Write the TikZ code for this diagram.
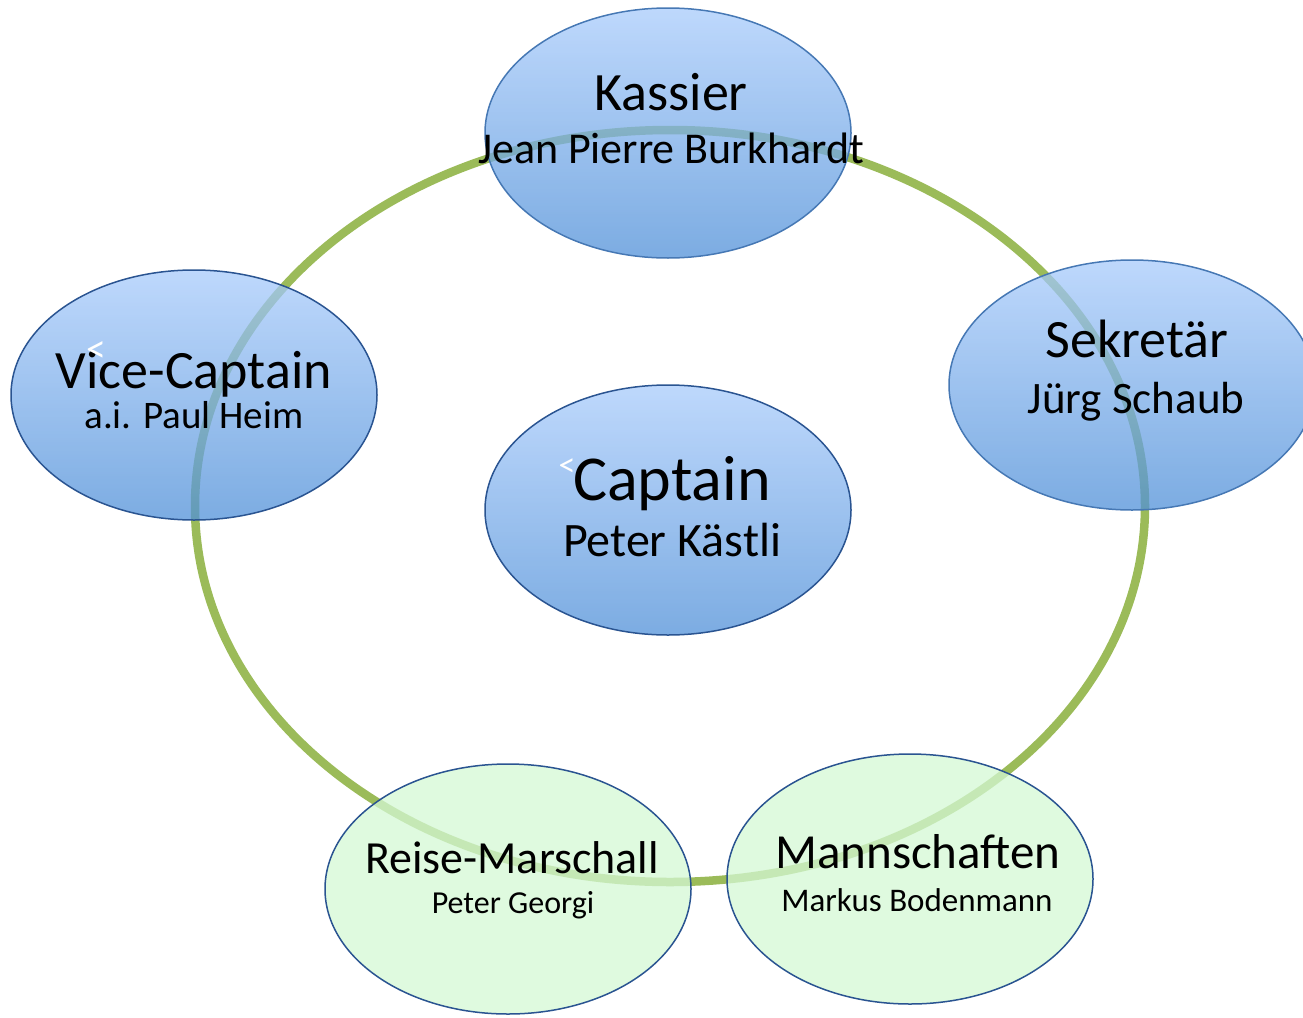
\documentclass[tikz,border=0pt]{standalone}
\usepackage{fontspec}
\setmainfont{Carlito}
\usetikzlibrary{shapes.geometric}
\definecolor{ringgreen}{RGB}{155,187,89}
\definecolor{bluetop}{RGB}{168,203,251}
\definecolor{bluebot}{RGB}{80,144,216}
\definecolor{bluedark}{RGB}{42,84,145}
\definecolor{bluemid}{RGB}{70,120,180}
\definecolor{greenfill}{RGB}{212,248,212}
\newcommand{\fs}[1]{\fontsize{#1}{#1}\selectfont}
\begin{document}
\begin{tikzpicture}[x=1pt,y=-1pt,
  ell/.style={ellipse, line width=1.5pt, minimum width=366pt, minimum height=250pt, inner sep=0pt, fill opacity=0.75, draw opacity=1},
  blueell/.style={ell, draw=bluedark, top color=bluetop, bottom color=bluebot},
  blueelllight/.style={ell, draw=bluemid, top color=bluetop, bottom color=bluebot},
  greenell/.style={ell, draw=bluedark, fill=greenfill},
  lbl/.style={anchor=base, text=black, inner sep=0pt},
  glyph/.style={anchor=base, text=white, inner sep=0pt}]
\useasboundingbox (0,0) rectangle (1303,1017);
\clip (0,0) rectangle (1303,1017);
% ring
\node[ellipse, draw=ringgreen, line width=8.5pt, minimum width=950pt, minimum height=752pt, inner sep=0pt] (ring) at (670,506) {};
% ellipses
\node[blueelllight] (kassier) at (668,133) {};
\node[blueell] (vice) at (194,395) {};
\node[blueell] (captain) at (668,510) {};
\node[blueelllight] (sekretaer) at (1132,385) {};
\node[greenell] (reise) at (508,889) {};
\node[greenell] (mann) at (910,879) {};
% texts
\node[lbl, font=\fs{54}] (kassierT) at (671,110) {Kassier};
\node[lbl, font=\fs{44}] (kassierN) at (671,163) {Jean Pierre Burkhardt};
\node[lbl, font=\fs{54}] (viceT) at (194,388) {Vice-Captain};
\node[lbl, font=\fs{39}] (viceN) at (194,428) {a.i. Paul Heim};
\node[lbl, font=\fs{64}] (captainT) at (672,500) {Captain};
\node[lbl, font=\fs{48}] (captainN) at (672,556) {Peter Kästli};
\node[lbl, font=\fs{54}] (sekT) at (1137,357) {Sekretär};
\node[lbl, font=\fs{45}] (sekN) at (1136,413) {Jürg Schaub};
\node[lbl, font=\fs{46}] (reiseT) at (512,873) {Reise-Marschall};
\node[lbl, font=\fs{32}] (reiseN) at (513,913) {Peter Georgi};
\node[lbl, font=\fs{49}] (mannT) at (918,868) {Mannschaften};
\node[lbl, font=\fs{33}] (mannN) at (917,911) {Markus Bodenmann};
\node[glyph, font=\fs{40}] (m1) at (96,362) {<};
\node[glyph, font=\fs{34}] (m2) at (567,476) {<};
\end{tikzpicture}
\end{document}
